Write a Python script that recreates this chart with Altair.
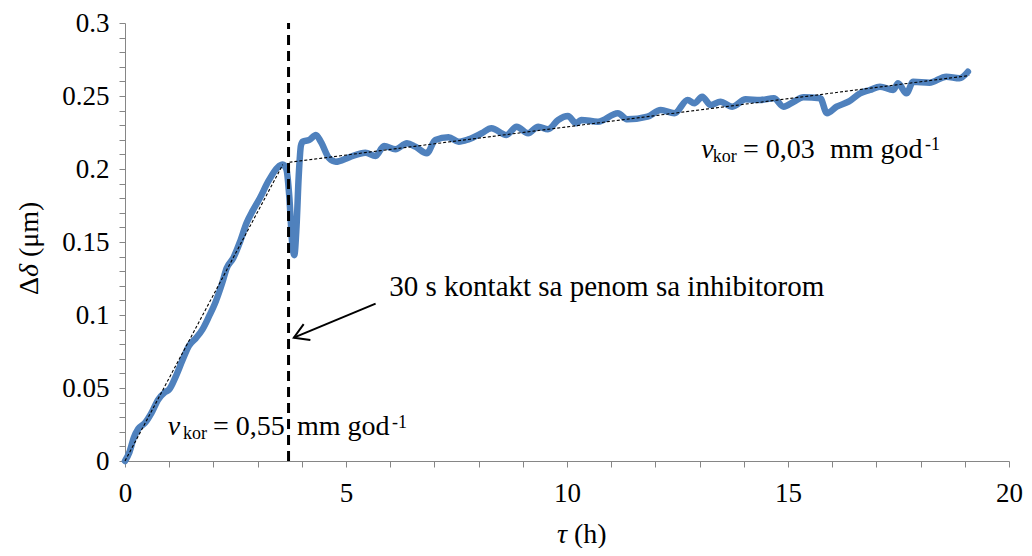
import altair as alt
import pandas as pd

# ---- data ----
time_h = [0.0, 0.1, 0.2, 0.3, 0.45, 0.6, 0.75, 0.9, 1.0, 1.15, 1.3, 1.45, 1.6, 1.75, 1.9,
          2.05, 2.2, 2.3, 2.45, 2.6, 2.75, 2.9, 3.05, 3.25, 3.45, 3.57, 3.65, 3.72, 3.78,
          3.83, 3.88, 3.93, 3.98,
          4.02, 4.17, 4.32, 4.43, 4.62, 4.77, 5.07, 5.44, 5.67, 5.86, 6.12, 6.38, 6.57, 6.83,
          7.02, 7.32, 7.55, 7.77, 8.07, 8.29, 8.63, 8.86, 9.12, 9.35, 9.57, 9.80, 10.02,
          10.21, 10.32, 10.70, 11.15, 11.37, 11.82, 12.12, 12.43, 12.73, 12.88, 13.06, 13.25,
          13.47, 13.74, 14.04, 14.37, 14.68, 14.90, 15.13, 15.35, 15.73, 15.88, 16.10, 16.37,
          16.63, 16.85, 17.08, 17.38, 17.49, 17.68, 17.83, 18.20, 18.58, 18.88, 19.07]
delta_um = [0.0, 0.006, 0.016, 0.022, 0.026, 0.033, 0.042, 0.047, 0.049, 0.058, 0.069, 0.079,
            0.084, 0.090, 0.099, 0.109, 0.122, 0.132, 0.139, 0.150, 0.163, 0.172, 0.180, 0.192,
            0.201, 0.203, 0.200, 0.180, 0.150, 0.141, 0.160, 0.195, 0.216,
            0.2187, 0.2199, 0.2233, 0.2187, 0.2073, 0.2050, 0.2080, 0.2112, 0.2089, 0.2158,
            0.2135, 0.2176, 0.2153, 0.2108, 0.2199, 0.2217, 0.2187, 0.2203, 0.2245, 0.2279,
            0.2233, 0.2290, 0.2245, 0.2290, 0.2272, 0.2336, 0.2363,
            0.2313, 0.2336, 0.2324, 0.2382, 0.2340, 0.2358, 0.2404, 0.2382, 0.2473, 0.2450,
            0.2495, 0.2438, 0.2461, 0.2427, 0.2477, 0.2473, 0.2484, 0.2427, 0.2461, 0.2491,
            0.2484, 0.2382, 0.2427, 0.2461, 0.2518, 0.2541, 0.2564, 0.2541, 0.2587, 0.2518,
            0.2597, 0.2591, 0.2632, 0.2621, 0.2666]

trend_t = [0.0, 3.57, 3.72, 19.1]
trend_d = [0.0, 0.203, 0.2046, 0.264]
trend_seg = ["before", "before", "after", "after"]

contact_t = [3.7]

x_ticks = list(range(0, 21))
y_ticks = [round(i * 0.01, 2) for i in range(0, 31)]

# annotation pieces
ann_t = [0.97, 1.31, 1.99, 3.89, 6.04, 13.04, 13.30, 13.98, 15.95, 18.10, 5.98]
ann_d = [0.0178, 0.0151, 0.0178, 0.0178, 0.0226, 0.2075, 0.2048, 0.2075, 0.2075, 0.2130, 0.1132]
ann_txt = ["v", "kor", "= 0,55", "mm god", "-1", "v", "kor", "= 0,03", "mm god", "-1",
           "30  s kontakt sa penom sa inhibitorom"]
ann_size = [28, 18, 28, 28, 18, 28, 18, 28, 28, 18, 29]
ann_style = ["italic", "normal", "normal", "normal", "normal",
             "italic", "normal", "normal", "normal", "normal", "normal"]

arrow_t = [5.67]
arrow_d = [0.1078]
arrow_t2 = [3.82]
arrow_d2 = [0.0845]

FONT = "Liberation Serif"
AX = "#868686"

curve = pd.DataFrame({"t": time_h, "d": delta_um})
trend = pd.DataFrame({"t": trend_t, "d": trend_d, "seg": trend_seg})
ann = pd.DataFrame({"t": ann_t, "d": ann_d, "text": ann_txt, "size": ann_size, "style": ann_style})
arrow = pd.DataFrame({"t": arrow_t, "d": arrow_d, "t2": arrow_t2, "d2": arrow_d2})
vline = pd.DataFrame({"t": contact_t, "d": [0.0], "d2": [0.3]})

xs = alt.Scale(domain=[0, 20], nice=False, zero=False)
ys = alt.Scale(domain=[0, 0.3], nice=False)

x_axis = alt.Axis(values=x_ticks, tickCount=40,
                  labelExpr="datum.value % 5 == 0 ? format(datum.value, 'd') : ''",
                  title=None, grid=False, tickSize=6, tickColor=AX, domainColor=AX,
                  labelFont=FONT, labelFontSize=27, labelColor="black", labelPadding=13,
                  labelOverlap=False, labelFlush=False, labelBound=False)
y_axis = alt.Axis(values=y_ticks, tickCount=60,
                  labelExpr="abs(datum.value*20 - round(datum.value*20)) < 1e-6 ? format(datum.value, '~g') : ''",
                  title=None, grid=False, tickSize=6, tickColor=AX, domainColor=AX,
                  labelFont=FONT, labelFontSize=27, labelColor="black", labelPadding=10,
                  labelOverlap=False, labelFlush=False, labelBound=False)


def X(field):
    return alt.X(field, scale=xs, title=None)


def Y(field):
    return alt.Y(field, scale=ys, title=None)


curve_layer = alt.Chart(curve).mark_line(
    color="#4F81BD", strokeWidth=6.5, interpolate="monotone", strokeCap="round", strokeJoin="round"
).encode(
    x=alt.X("t:Q", scale=xs, axis=x_axis),
    y=alt.Y("d:Q", scale=ys, axis=y_axis),
)

trend_layer = alt.Chart(trend).mark_line(
    color="black", strokeWidth=1.1, strokeDash=[3, 2]
).encode(x=X("t:Q"), y=Y("d:Q"), detail="seg:N")

vline_layer = alt.Chart(vline).mark_rule(
    color="black", strokeWidth=3, strokeDash=[10, 6]
).encode(x=X("t:Q"), y=Y("d:Q"), y2="d2:Q")

arrow_line = alt.Chart(arrow).mark_rule(color="black", strokeWidth=2).encode(
    x=X("t:Q"), y=Y("d:Q"), x2="t2:Q", y2="d2:Q",
)

arrow_head = alt.Chart(arrow).mark_point(
    shape="M -1 -0.6 L 0 0 L -1 0.6", filled=False, stroke="black", strokeWidth=2,
    size=820, angle=157, opacity=1
).encode(x=X("t2:Q"), y=Y("d2:Q"))

text_layers = []
for size in sorted(set(ann_size)):
    for style in sorted(set(ann_style)):
        sub = ann[(ann["size"] == size) & (ann["style"] == style)]
        if len(sub) == 0:
            continue
        text_layers.append(
            alt.Chart(sub).mark_text(
                font=FONT, fontSize=size, fontStyle=style, align="left",
                baseline="alphabetic", color="black"
            ).encode(x=X("t:Q"), y=Y("d:Q"), text="text:N")
        )

# axis titles (mixed italic / upright)
xt1 = alt.Chart(pd.DataFrame({"text": ["τ"]})).mark_text(
    font=FONT, fontSize=28, fontStyle="italic", align="left", baseline="alphabetic", color="black"
).encode(x=alt.value(432), y=alt.value(520), text="text:N")
xt2 = alt.Chart(pd.DataFrame({"text": ["(h)"]})).mark_text(
    font=FONT, fontSize=28, align="left", baseline="alphabetic", color="black"
).encode(x=alt.value(449), y=alt.value(520), text="text:N")

yt1 = alt.Chart(pd.DataFrame({"text": ["Δ"]})).mark_text(
    font=FONT, fontSize=28, align="left", baseline="alphabetic", color="black", angle=270
).encode(x=alt.value(-87), y=alt.value(272), text="text:N")
yt2 = alt.Chart(pd.DataFrame({"text": ["δ"]})).mark_text(
    font=FONT, fontSize=28, fontStyle="italic", align="left", baseline="alphabetic",
    color="black", angle=270
).encode(x=alt.value(-87), y=alt.value(254), text="text:N")
yt3 = alt.Chart(pd.DataFrame({"text": ["(μm)"]})).mark_text(
    font=FONT, fontSize=28, align="left", baseline="alphabetic", color="black", angle=270
).encode(x=alt.value(-87), y=alt.value(234), text="text:N")

chart = alt.layer(
    curve_layer, trend_layer, vline_layer, arrow_line, arrow_head,
    *text_layers, xt1, xt2, yt1, yt2, yt3
).properties(
    width=884, height=438,
    autosize=alt.AutoSizeParams(type="none"),
    padding={"left": 117, "top": 15, "right": 15, "bottom": 87},
    background="white",
).configure_view(strokeWidth=0)

chart.save("out.html", embed_options={"renderer": "svg", "actions": False})
